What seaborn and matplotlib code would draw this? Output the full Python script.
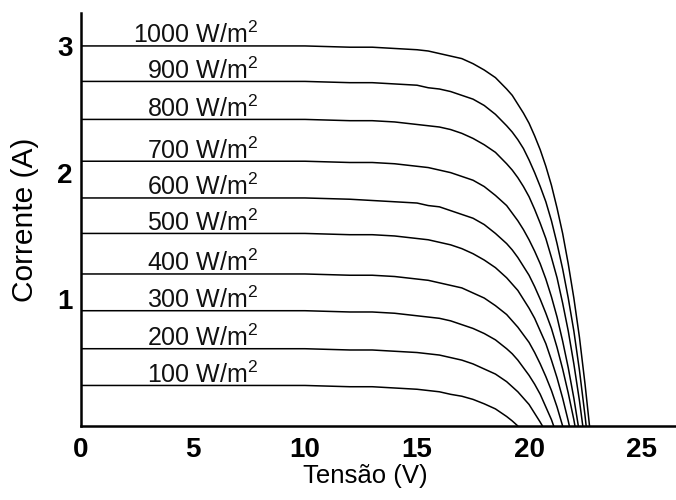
import pandas as pd
import matplotlib
matplotlib.use('Agg')
import matplotlib.pyplot as plt
import seaborn as sns

# Curvas I-V de um módulo fotovoltaico para várias irradiâncias
irradiance = [100, 200, 300, 400, 500, 600, 700, 800, 900, 1000]
voc = [19.5, 20.6, 21.1, 21.5, 21.8, 22.05, 22.2, 22.4, 22.55, 22.7]
voltage = [0, 5, 10, 12, 13, 14, 15, 15.5, 16, 16.5, 17, 17.5, 18, 18.5, 19,
           19.25, 19.5, 19.75, 20, 20.25, 20.5, 20.75, 21, 21.25, 21.5, 21.75,
           22, 22.25, 22.5]

# corrente lida em cada tensão (até chegar à tensão de circuito aberto)
i_100 = [0.32, 0.32, 0.32, 0.31, 0.31, 0.30, 0.29, 0.28, 0.27, 0.25, 0.235,
         0.21, 0.175, 0.135, 0.075, 0.04]
i_200 = [0.61, 0.61, 0.61, 0.60, 0.60, 0.59, 0.58, 0.57, 0.56, 0.54, 0.52,
         0.49, 0.45, 0.41, 0.35, 0.31, 0.27, 0.22, 0.17, 0.10, 0.03]
i_300 = [0.91, 0.91, 0.91, 0.90, 0.90, 0.89, 0.87, 0.86, 0.85, 0.83, 0.80,
         0.77, 0.73, 0.68, 0.61, 0.57, 0.52, 0.46, 0.40, 0.33, 0.25, 0.15, 0.05]
i_400 = [1.20, 1.20, 1.20, 1.19, 1.19, 1.18, 1.16, 1.15, 1.13, 1.11, 1.09,
         1.05, 1.01, 0.95, 0.88, 0.83, 0.78, 0.72, 0.66, 0.58, 0.49, 0.39,
         0.28, 0.15]
i_500 = [1.52, 1.52, 1.52, 1.51, 1.51, 1.50, 1.48, 1.47, 1.45, 1.43, 1.40,
         1.36, 1.31, 1.25, 1.17, 1.12, 1.07, 1.00, 0.93, 0.85, 0.75, 0.65,
         0.52, 0.38, 0.22, 0.04]
i_600 = [1.80, 1.80, 1.80, 1.79, 1.78, 1.77, 1.76, 1.74, 1.73, 1.70, 1.67,
         1.64, 1.59, 1.52, 1.44, 1.39, 1.33, 1.26, 1.19, 1.10, 1.00, 0.89,
         0.77, 0.62, 0.45, 0.26, 0.05]
i_700 = [2.09, 2.09, 2.09, 2.08, 2.08, 2.07, 2.05, 2.04, 2.02, 2.00, 1.97,
         1.94, 1.89, 1.82, 1.74, 1.68, 1.62, 1.55, 1.47, 1.38, 1.28, 1.16,
         1.02, 0.86, 0.67, 0.46, 0.22]
i_800 = [2.42, 2.42, 2.42, 2.41, 2.41, 2.40, 2.38, 2.37, 2.36, 2.34, 2.31,
         2.27, 2.22, 2.16, 2.07, 2.02, 1.96, 1.89, 1.81, 1.71, 1.60, 1.48,
         1.33, 1.17, 0.97, 0.75, 0.49, 0.20]
i_900 = [2.72, 2.72, 2.72, 2.71, 2.71, 2.70, 2.69, 2.67, 2.66, 2.64, 2.61,
         2.58, 2.53, 2.46, 2.37, 2.32, 2.26, 2.19, 2.10, 2.00, 1.89, 1.77,
         1.62, 1.44, 1.24, 1.01, 0.75, 0.44, 0.08]
i_1000 = [3.00, 3.00, 3.00, 2.99, 2.99, 2.98, 2.97, 2.96, 2.94, 2.92, 2.90,
          2.86, 2.81, 2.75, 2.66, 2.61, 2.54, 2.47, 2.39, 2.29, 2.18, 2.05,
          1.90, 1.72, 1.52, 1.28, 1.01, 0.70, 0.33]

currents = [i_100, i_200, i_300, i_400, i_500, i_600, i_700, i_800, i_900, i_1000]

# tabela longa para o seaborn
rows = []
for g, v_oc, cur in zip(irradiance, voc, currents):
    for v, i in zip(voltage, cur):
        rows.append({'irr': g, 'V': v, 'I': i})
    rows.append({'irr': g, 'V': v_oc, 'I': 0.0})
df = pd.DataFrame(rows)

sns.set_style('white')
plt.rcParams['font.family'] = ['Liberation Sans', 'DejaVu Sans']
plt.rcParams['mathtext.fontset'] = 'custom'
plt.rcParams['mathtext.rm'] = 'Liberation Sans'
plt.rcParams['text.color'] = 'black'
plt.rcParams['axes.labelcolor'] = 'black'
plt.rcParams['xtick.color'] = 'black'
plt.rcParams['ytick.color'] = 'black'

fig = plt.figure(figsize=(6.76, 5.0), dpi=100)
ax = fig.add_axes([81 / 676, 74 / 500, 595 / 676, 413 / 500])

sns.lineplot(data=df, x='V', y='I', units='irr', estimator=None,
             color='black', linewidth=1.1, sort=False, ax=ax)

for g, cur in zip(irradiance, currents):
    ax.text(7.9, cur[0] + 0.02, f'{g} W/m$^2$', ha='right', va='baseline',
            fontsize=18, color='#111111')

ax.set_xlim(0, 26.56)
ax.set_ylim(0, 3.26)
ax.set_xticks([0, 5, 10, 15, 20, 25])
ax.set_yticks([1, 2, 3])
ax.tick_params(axis='both', direction='in', length=6, width=1.6,
               labelsize=20, color='black', labelcolor='black')
ax.tick_params(axis='x', pad=8)
ax.tick_params(axis='y', pad=6)
for lab in ax.get_xticklabels() + ax.get_yticklabels():
    lab.set_fontweight('bold')

for side in ['top', 'right']:
    ax.spines[side].set_visible(False)
for side in ['left', 'bottom']:
    ax.spines[side].set_linewidth(1.8)
    ax.spines[side].set_color('black')

ax.set_xlabel('Tensão (V)', fontsize=18.5)
ax.set_ylabel('Corrente (A)', fontsize=21.5)
ax.xaxis.set_label_coords(0.478, -0.092)
ax.yaxis.set_label_coords(-0.07, 0.5)

fig.savefig('out.png', dpi=100)
